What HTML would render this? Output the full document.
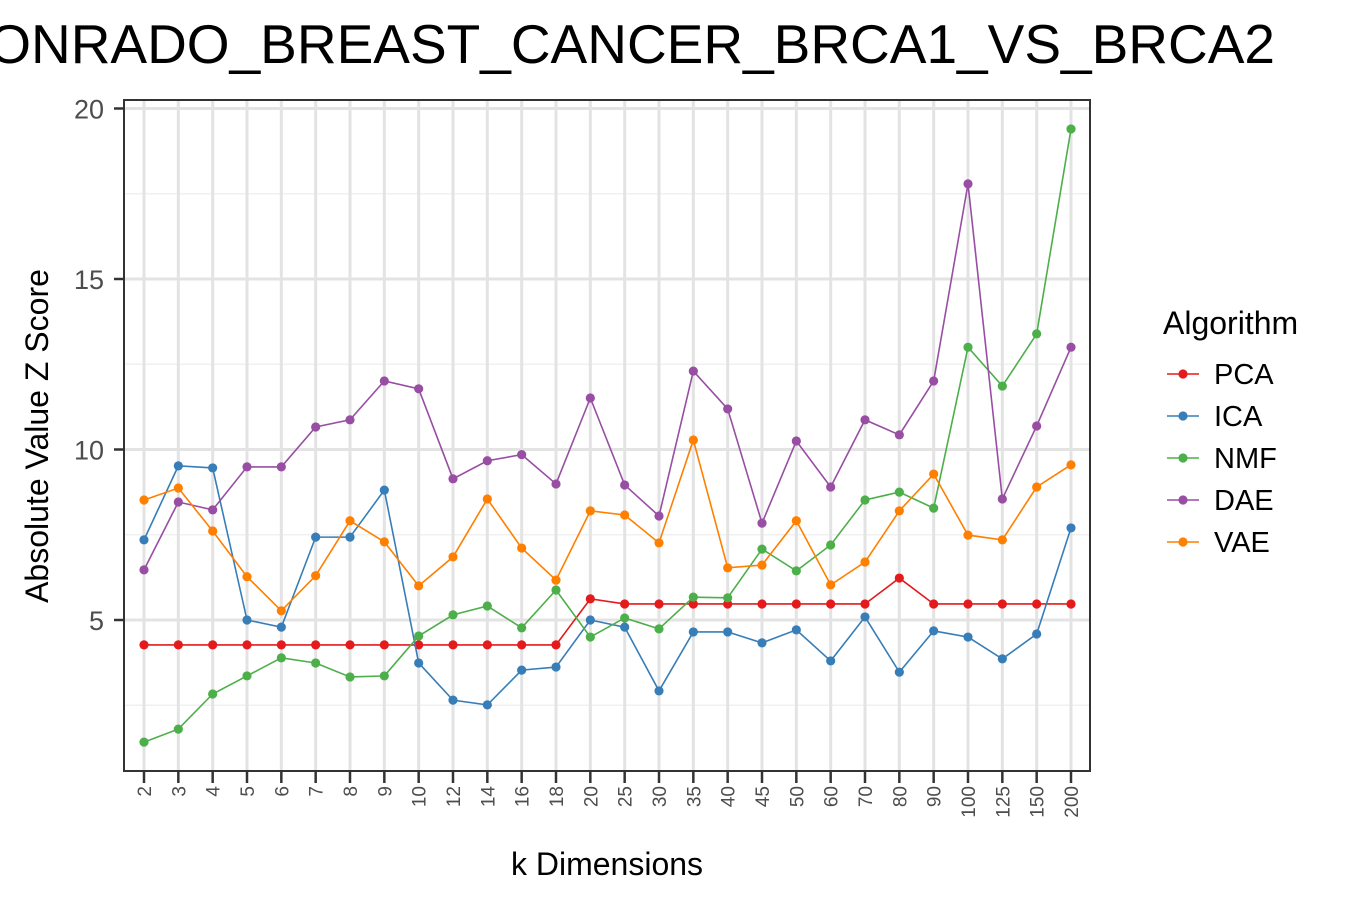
<!DOCTYPE html>
<html><head><meta charset="utf-8"><style>
body{margin:0;background:#fff;font-family:"Liberation Sans",Arial,sans-serif}
svg{display:block}
</style></head><body>
<svg id="chart" width="1350" height="900" xmlns="http://www.w3.org/2000/svg" font-family="Liberation Sans, Arial, sans-serif">
<text x="1275" y="63" text-anchor="end" font-size="55" fill="#000">CONRADO_BREAST_CANCER_BRCA1_VS_BRCA2</text>
<g id="grid"></g>
<g id="series"></g>
<rect x="124" y="100" width="966" height="671" fill="none" stroke="#333" stroke-width="2"/>
<g id="axes"></g>
<text transform="translate(48,436) rotate(-90)" text-anchor="middle" font-size="32" fill="#000">Absolute Value Z Score</text>
<text x="607" y="875" text-anchor="middle" font-size="32" fill="#000">k Dimensions</text>
<g id="legend"></g>
</svg>
<script>
const categories=["2","3","4","5","6","7","8","9","10","12","14","16","18","20","25","30","35","40","45","50","60","70","80","90","100","125","150","200"];
const seriesNames=["PCA","ICA","NMF","DAE","VAE"];
const seriesColors=["#e41a1c","#377eb8","#4daf4a","#984ea3","#ff7f00"];
const pcaValues=[4.27,4.27,4.27,4.27,4.27,4.27,4.27,4.27,4.27,4.27,4.27,4.27,4.27,5.62,5.47,5.47,5.47,5.47,5.47,5.47,5.47,5.47,6.23,5.47,5.47,5.47,5.47,5.47];
const icaValues=[7.35,9.52,9.46,5.0,4.79,7.43,7.43,8.81,3.74,2.65,2.51,3.53,3.62,5.0,4.79,2.92,4.65,4.65,4.33,4.71,3.80,5.09,3.47,4.68,4.50,3.86,4.59,7.70];
const nmfValues=[1.42,1.80,2.83,3.36,3.89,3.74,3.33,3.36,4.53,5.15,5.41,4.77,5.88,4.50,5.06,4.74,5.67,5.65,7.08,6.44,7.20,8.52,8.75,8.28,13.0,11.86,13.39,19.40];
const daeValues=[6.47,8.46,8.23,9.49,9.49,10.66,10.87,12.01,11.78,9.14,9.67,9.85,8.99,11.51,8.96,8.05,12.30,11.19,7.84,10.25,8.90,10.87,10.43,12.01,17.79,8.55,10.69,13.0];
const vaeValues=[8.52,8.87,7.61,6.27,5.27,6.30,7.91,7.29,6.0,6.85,8.55,7.11,6.17,8.20,8.08,7.26,10.28,6.53,6.61,7.91,6.03,6.70,8.20,9.28,7.49,7.35,8.90,9.55];
const yTicks=[5,10,15,20];
const yMinor=[2.5,7.5,12.5,17.5];
const allSeries=[pcaValues,icaValues,nmfValues,daeValues,vaeValues];

const NS="http://www.w3.org/2000/svg";
const X0=144,X1=1071,Y0=790.5,PPU=34.1;
const xs=i=>X0+i*(X1-X0)/(categories.length-1);
const ys=v=>Y0-v*PPU;
function mk(tag,attrs,parent){const e=document.createElementNS(NS,tag);for(const k in attrs)e.setAttribute(k,attrs[k]);parent.appendChild(e);return e;}
const grid=document.getElementById('grid'),axes=document.getElementById('axes'),ser=document.getElementById('series'),leg=document.getElementById('legend');
yMinor.forEach(v=>{const l=mk('line',{x1:124,x2:1090,y1:ys(v),y2:ys(v),stroke:'#f0f0f0','stroke-width':1.5},grid);

});
yTicks.forEach(v=>{const l=mk('line',{x1:124,x2:1090,y1:ys(v),y2:ys(v),stroke:'#e3e3e3','stroke-width':3},grid);


const t=mk('line',{x1:114,x2:124,y1:ys(v),y2:ys(v),stroke:'#333','stroke-width':2.5},axes);


const tx=mk('text',{x:104,y:ys(v)+10,'text-anchor':'end','font-size':27,fill:'#4d4d4d'},axes);tx.textContent=v;

});
categories.forEach((c,i)=>{const l=mk('line',{x1:xs(i),x2:xs(i),y1:100,y2:771,stroke:'#e3e3e3','stroke-width':3},grid);


const t=mk('line',{x1:xs(i),x2:xs(i),y1:771,y2:783,stroke:'#333','stroke-width':2.5},axes);


const tx=mk('text',{transform:`translate(${xs(i)+7},786) rotate(-90)`,'text-anchor':'end','font-size':19,fill:'#4d4d4d'},axes);tx.textContent=c;

});
allSeries.forEach((vals,s)=>{const g=mk('g',{},ser);


const p=mk('polyline',{points:vals.map((v,i)=>xs(i)+','+ys(v)).join(' '),fill:'none',stroke:seriesColors[s],'stroke-width':1.6},g);


vals.forEach((v,i)=>{const c=mk('circle',{cx:xs(i),cy:ys(v),r:4.6,fill:seriesColors[s]},g);

});});
const lt=mk('text',{x:1163,y:334,'font-size':32,fill:'#000'},leg);lt.textContent='Algorithm';


seriesNames.forEach((n,s)=>{const y=374+s*42;const g=mk('g',{},leg);


mk('line',{x1:1167,x2:1199,y1:y,y2:y,stroke:seriesColors[s],'stroke-width':1.6},g);
mk('circle',{cx:1183,cy:y,r:4.6,fill:seriesColors[s]},g);
const t=mk('text',{x:1214,y:y+10,'font-size':29,fill:'#000'},g);t.textContent=n;});
</script>
</body></html>
